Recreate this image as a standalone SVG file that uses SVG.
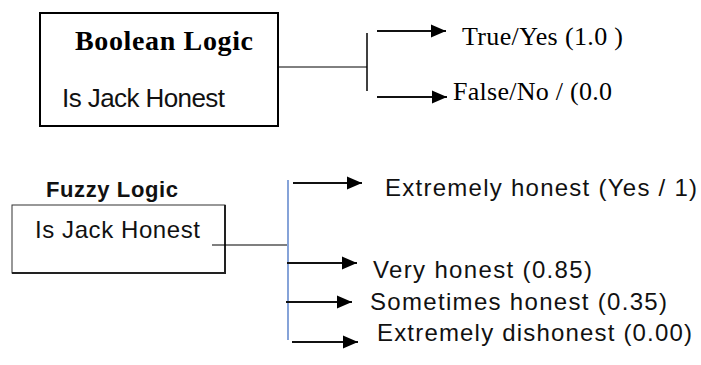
<svg xmlns="http://www.w3.org/2000/svg" width="701" height="365" viewBox="0 0 701 365">
<style>
.serif{font-family:"Liberation Serif","Times New Roman",serif;fill:#000}
.sans{font-family:"Liberation Sans",Arial,sans-serif;fill:#111}
.conn{stroke:#000;fill:none}
.arr{stroke:#111;stroke-width:2;marker-end:url(#ah)}
</style>
<defs>
<marker id="ah" markerUnits="userSpaceOnUse" markerWidth="16" markerHeight="14" refX="15" refY="7" orient="auto">
<path d="M0,0.5 L15,7 L0,13.5 z" fill="#000"/>
</marker>
</defs>
<rect width="701" height="365" fill="#fff"/>

<g id="boolean-box">
<rect x="40" y="13" width="238" height="113" fill="#fff" stroke="#000" stroke-width="2"/>
<text class="serif" x="75" y="50" font-size="28" font-weight="bold" textLength="178">Boolean Logic</text>
<text class="sans" x="62" y="107" font-size="26" textLength="163">Is Jack Honest</text>
</g>

<g id="boolean-true">
<text class="serif" x="462" y="45" font-size="26" textLength="161">True/Yes (1.0 )</text>
</g>
<g id="boolean-false">
<text class="serif" x="453" y="100" font-size="26" textLength="159">False/No / (0.0</text>
</g>

<g id="fuzzy-box">
<text class="sans" x="46" y="197" font-size="22" font-weight="bold" textLength="132">Fuzzy Logic</text>
<rect x="12" y="205" width="213" height="68" fill="#fff" stroke="#333" stroke-width="1"/>
<path d="M225,205 V273 H12" fill="none" stroke="#222" stroke-width="2"/>
<text class="sans" x="35" y="238" font-size="24" textLength="165">Is Jack Honest</text>
</g>

<g id="fuzzy-extremely-honest">
<text class="sans" x="385" y="196" font-size="24" textLength="312">Extremely honest (Yes / 1)</text>
</g>
<g id="fuzzy-very-honest">
<text class="sans" x="373" y="278" font-size="24" textLength="219">Very honest (0.85)</text>
</g>
<g id="fuzzy-sometimes-honest">
<text class="sans" x="370" y="310" font-size="24" textLength="297">Sometimes honest (0.35)</text>
</g>
<g id="fuzzy-extremely-dishonest">
<text class="sans" x="377" y="341" font-size="24" textLength="315">Extremely dishonest (0.00)</text>
</g>

<g id="connectors">
<line class="conn" x1="278" y1="67" x2="367" y2="67" stroke-width="1"/>
<line class="conn" x1="367" y1="33" x2="367" y2="91" stroke-width="1.5" stroke="#333"/>
<line class="arr" x1="377" y1="31" x2="446" y2="31" stroke="#333"/>
<line class="arr" x1="377" y1="97" x2="447" y2="97" stroke-width="3"/>

<line class="conn" x1="212" y1="245" x2="287" y2="245" stroke-width="1.2"/>
<line x1="288" y1="180" x2="288" y2="340" stroke="#4472C4" stroke-width="1.3"/>
<line class="arr" x1="293" y1="183" x2="362" y2="183"/>
<line class="arr" x1="287" y1="263" x2="357" y2="263"/>
<line class="arr" x1="286" y1="302" x2="352" y2="302"/>
<line class="arr" x1="292" y1="342" x2="358" y2="342"/>
</g>
</svg>
